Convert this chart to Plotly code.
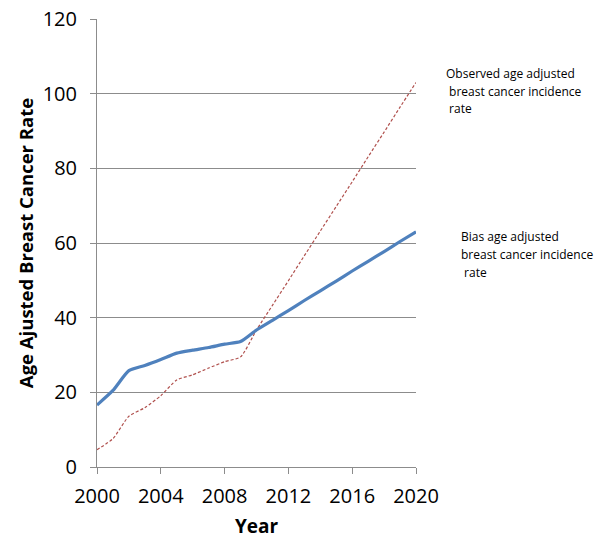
import plotly.graph_objects as go

years = list(range(2000, 2021))
bias_rate = [16.6, 20.5, 25.8, 27.2, 28.8, 30.5, 31.3, 32.0, 32.9, 33.6,
             36.7, 39.3, 41.9, 44.6, 47.2, 49.8, 52.5, 55.1, 57.7, 60.4, 63.0]
observed_rate = [4.6, 7.6, 13.6, 15.9, 19.1, 23.3, 24.7, 26.5, 28.2, 29.5,
                 36.7, 43.3, 49.9, 56.6, 63.2, 69.8, 76.4, 83.1, 89.7, 96.4, 103.0]
x_ticks = [2000, 2004, 2008, 2012, 2016, 2020]
y_ticks = [0, 20, 40, 60, 80, 100, 120]
observed_label = ["Observed age adjusted", "\u00a0breast cancer incidence", "\u00a0rate"]
bias_label = ["Bias age adjusted", "breast cancer incidence", "\u00a0rate"]

FONT = "Open Sans"
GRID = "#8c8c8c"
OFF = 8  # page body margin
W, H = 613 - OFF, 539 - OFF
L, R, T, B = 97 - OFF, 197, 19 - OFF, 72
PW, PH = W - L - R, H - T - B

fig = go.Figure()
fig.add_trace(go.Scatter(
    x=years, y=observed_rate, mode="lines",
    line=dict(color="#B0504D", width=1.2, dash="3px,2px", shape="spline", smoothing=0.6),
    name="Observed", showlegend=False, hoverinfo="skip"))
fig.add_trace(go.Scatter(
    x=years, y=bias_rate, mode="lines",
    line=dict(color="#4F81BD", width=3.2, shape="spline", smoothing=0.6),
    name="Bias", showlegend=False, hoverinfo="skip"))

fig.update_layout(
    template="none",
    width=W, height=H,
    margin=dict(l=L, r=R, t=T, b=B, autoexpand=False),
    paper_bgcolor="white", plot_bgcolor="white",
    font=dict(family=FONT, color="black"),
    xaxis=dict(
        range=[2000, 2020], tickvals=x_ticks, ticktext=[str(v) for v in x_ticks],
        automargin=False, ticklabeloverflow="allow",
        showgrid=False, zeroline=False, showline=True, linecolor=GRID, linewidth=1,
        ticks="outside", ticklen=6, tickcolor=GRID, tickwidth=1,
        tickfont=dict(size=20, family=FONT), ticklabelstandoff=5,
        title=dict(text="<b>Year</b>", font=dict(size=19, family=FONT), standoff=19),
    ),
    yaxis=dict(
        range=[0, 120], tickvals=y_ticks, ticktext=[str(v) for v in y_ticks],
        automargin=False, ticklabeloverflow="allow",
        showgrid=True, gridcolor=GRID, gridwidth=1, zeroline=False,
        showline=True, linecolor=GRID, linewidth=1,
        ticks="outside", ticklen=6, tickcolor=GRID, tickwidth=1,
        tickfont=dict(size=20, family=FONT), ticklabelstandoff=9,
        title=dict(text="<b>Age Ajusted Breast Cancer Rate</b>", font=dict(size=18.5, family=FONT), standoff=4),
    ),
)

def add_label(lines, px, py_mid, step=18):
    for i, s in enumerate(lines):
        fx = px - OFF
        fy = py_mid + i * step - OFF
        fig.add_annotation(
            xref="paper", yref="paper", x=(fx - L) / PW, y=(H - B - fy) / PH,
            xanchor="left", yanchor="middle", align="left", showarrow=False,
            text=s, font=dict(size=12, family=FONT, color="black"))

add_label(observed_label, 444, 73)
add_label(bias_label, 459, 236)

fig.write_html("out.html")
